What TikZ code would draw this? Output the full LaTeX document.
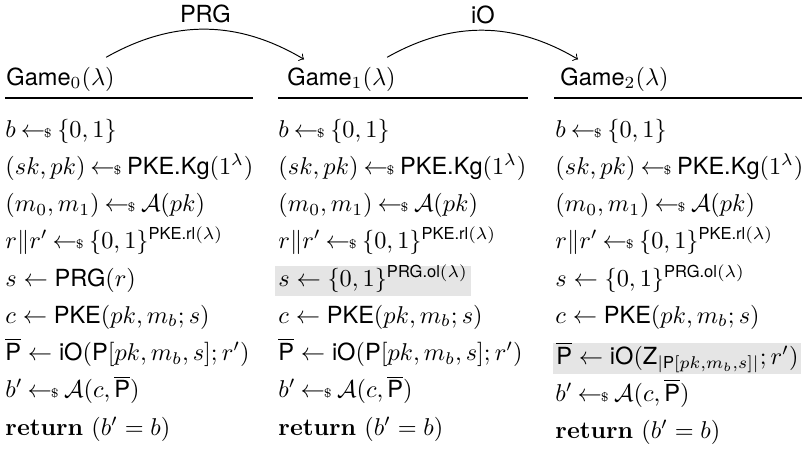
\documentclass[tikz,border=0pt]{standalone}
\usepackage{amsmath}
\usepackage{fontspec}
\setsansfont{TeX Gyre Heros}[Scale=0.97]
\usetikzlibrary{calc}
% sampling arrow: left arrow with a small dollar sign
\newcommand{\smp}{\hskip2pt{\gets\!\!\mbox{\tiny${\$}$\normalsize}}\hskip2.2pt}
\newcommand{\Pbar}{\overline{\textsf{P}}}

\begin{document}
\begin{tikzpicture}[x=0.41152pt, y=-0.41152pt,
  txt/.style={inner sep=0pt, anchor=base west},
  hl/.style={txt, fill=gray!20, inner xsep=1.2pt, text height=8.2pt, text depth=4pt},
  hrule/.style={line width=0.8pt},
  hop/.style={->, bend left=30, line width=0.4pt},
  hoplabel/.style={inner sep=0pt, above=2.5pt, font=\sffamily}]
\useasboundingbox (0,0) rectangle (802,452);

% game headers
\node[txt] (g0) at (6,85)   {$\textsf{Game}_0(\lambda)$};
\node[txt] (g1) at (287,85) {$\textsf{Game}_1(\lambda)$};
\node[txt] (g2) at (560,85) {$\textsf{Game}_2(\lambda)$};
\draw[hrule] (5,98) -- (253,98);
\draw[hrule] (278,98) -- (528,98);
\draw[hrule] (554,98) -- (802,98);

% hops between games
\draw[hop] ($(g0.north east)+(-9,-9)$) to node[hoplabel] {PRG} ($(g1.north west)+(17,-7)$);
\draw[hop] ($(g1.north east)+(-9,-9)$) to node[hoplabel] {iO} ($(g2.north west)+(18,-7)$);

% Game 0
\node[txt] (a1) at (5,137)    {$b \smp \{0,1\}$};
\node[txt] (a2) at (5,174.25) {$(sk,pk) \smp \textsf{PKE.Kg}(1^\lambda)$};
\node[txt] (a3) at (5,211.5)  {$(m_0,m_1) \smp \mathcal{A}(pk)$};
\node[txt] (a4) at (5,248.75) {$r\|r' \smp \{0,1\}^{\textsf{PKE.rl}(\lambda)}$};
\node[txt] (a5) at (5,286)    {$s \gets \textsf{PRG}(r)$};
\node[txt] (a6) at (5,323.25) {$c \gets \textsf{PKE}(pk,m_b;s)$};
\node[txt] (a7) at (5,360.5)  {$\Pbar \gets \textsf{iO}(\textsf{P}[pk,m_b,s];r')$};
\node[txt] (a8) at (5,397.75) {$b' \smp \mathcal{A}(c,\Pbar)$};
\node[txt] (a9) at (5,435)    {\textbf{return} $(b'=b)$};

% Game 1
\node[txt] (b1) at (278,137)    {$b \smp \{0,1\}$};
\node[txt] (b2) at (278,174.25) {$(sk,pk) \smp \textsf{PKE.Kg}(1^\lambda)$};
\node[txt] (b3) at (278,211.5)  {$(m_0,m_1) \smp \mathcal{A}(pk)$};
\node[txt] (b4) at (278,248.75) {$r\|r' \smp \{0,1\}^{\textsf{PKE.rl}(\lambda)}$};
\node[hl]  (b5) at (275,286)    {$s \gets \{0,1\}^{\textsf{PRG.ol}(\lambda)}$};
\node[txt] (b6) at (278,323.25) {$c \gets \textsf{PKE}(pk,m_b;s)$};
\node[txt] (b7) at (278,360.5)  {$\Pbar \gets \textsf{iO}(\textsf{P}[pk,m_b,s];r')$};
\node[txt] (b8) at (278,397.75) {$b' \smp \mathcal{A}(c,\Pbar)$};
\node[txt] (b9) at (278,435)    {\textbf{return} $(b'=b)$};

% Game 2
\node[txt] (c1) at (555,137)    {$b \smp \{0,1\}$};
\node[txt] (c2) at (555,174.25) {$(sk,pk) \smp \textsf{PKE.Kg}(1^\lambda)$};
\node[txt] (c3) at (555,211.5)  {$(m_0,m_1) \smp \mathcal{A}(pk)$};
\node[txt] (c4) at (555,248.75) {$r\|r' \smp \{0,1\}^{\textsf{PKE.rl}(\lambda)}$};
\node[txt] (c5) at (555,286)    {$s \gets \{0,1\}^{\textsf{PRG.ol}(\lambda)}$};
\node[txt] (c6) at (555,323.25) {$c \gets \textsf{PKE}(pk,m_b;s)$};
\node[hl, text height=8.9pt] (c7) at (553,364.5) {$\Pbar \gets \textsf{iO}(\textsf{Z}_{|\textsf{P}[pk,m_b,s]|};r')$};
\node[txt] (c8) at (555,401.5) {$b' \smp \mathcal{A}(c,\Pbar)$};
\node[txt] (c9) at (555,438.5) {\textbf{return} $(b'=b)$};
\end{tikzpicture}
\end{document}
